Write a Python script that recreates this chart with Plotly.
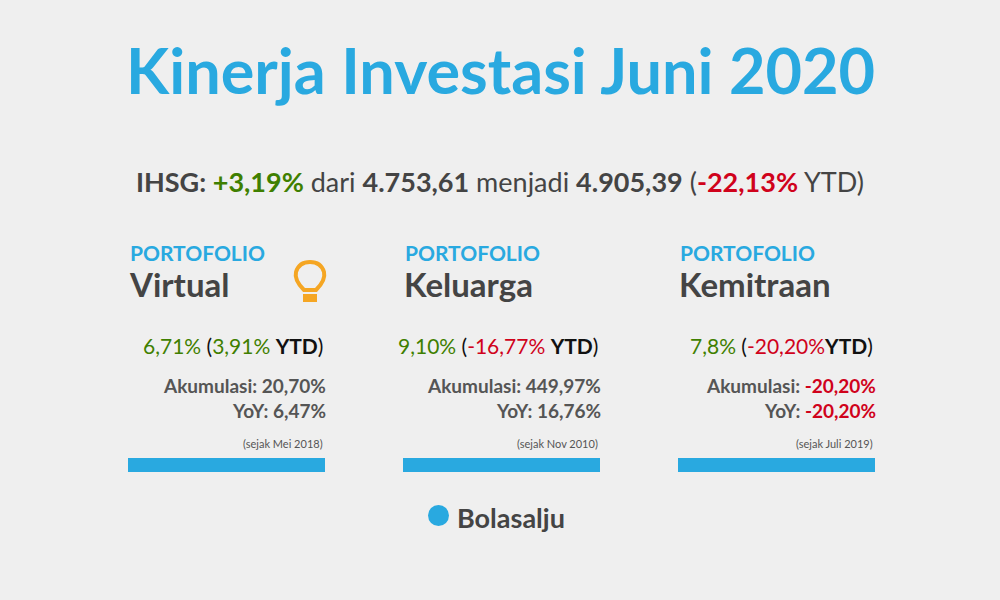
import plotly.graph_objects as go

title = "Kinerja Investasi Juni 2020"
ihsg_change = "+3,19%"
ihsg_from = "4.753,61"
ihsg_to = "4.905,39"
ihsg_ytd = "-22,13%"

names = ["Virtual", "Keluarga", "Kemitraan"]
monthly = ["6,71%", "9,10%", "7,8%"]
ytd = ["3,91%", "-16,77%", "-20,20%"]
akumulasi = ["20,70%", "449,97%", "-20,20%"]
yoy = ["6,47%", "16,76%", "-20,20%"]
since = ["(sejak Mei 2018)", "(sejak Nov 2010)", "(sejak Juli 2019)"]

BLUE = "#29a9e0"; GREEN = "#3f7f00"; RED = "#d0021b"; DARK = "#444444"; GREY = "#555555"
F = "Lato"

def col(v):
    return RED if v.startswith("-") else GREEN

fig = go.Figure()
ann = []
shapes = []
ann.append(dict(x=500, y=69, text=f"<b>{title}</b>", font=dict(size=63, color=BLUE, family=F)))
ann.append(dict(x=500, y=181, font=dict(size=27, color=DARK, family=F),
    text=f"<b>IHSG: </b><b><span style='color:{GREEN}'>{ihsg_change}</span></b> dari <b>{ihsg_from}</b> menjadi <b>{ihsg_to}</b> (<b><span style='color:{RED}'>{ihsg_ytd}</span></b> YTD)"))
for i, n in enumerate(names):
    x0 = 128 + 275 * i
    xr = x0 + 197
    ann.append(dict(x=x0, y=252, xanchor="left", text="<b>PORTOFOLIO</b>", font=dict(size=21, color=BLUE, family=F)))
    ann.append(dict(x=x0 - 1, y=284, xanchor="left", text=f"<b>{n}</b>", font=dict(size=33, color=DARK, family=F)))
    sep = " " if i < 2 else ""
    ann.append(dict(x=xr, y=345, xanchor="right", font=dict(size=21, color="#111", family=F),
        text=f"<span style='color:{col(monthly[i])}'>{monthly[i]}</span> (<span style='color:{col(ytd[i])}'>{ytd[i]}</span>{sep}<b>YTD</b>)"))
    ann.append(dict(x=xr + 3, y=385, xanchor="right", font=dict(size=19, color=GREY, family=F),
        text=f"<b>Akumulasi: </b><b><span style='color:{RED if akumulasi[i].startswith('-') else GREY}'>{akumulasi[i]}</span></b>"))
    ann.append(dict(x=xr + 3, y=410, xanchor="right", font=dict(size=19, color=GREY, family=F),
        text=f"<b>YoY: </b><b><span style='color:{RED if yoy[i].startswith('-') else GREY}'>{yoy[i]}</span></b>"))
    ann.append(dict(x=xr, y=443, xanchor="right", text=since[i], font=dict(size=11, color=GREY, family=F)))
    shapes.append(dict(type="rect", x0=x0, x1=xr, y0=458, y1=472, fillcolor=BLUE, line_width=0))

# lightbulb
OR = "#f5a623"
shapes.append(dict(type="path", path="M 304 290 Q 294 280 296 272 Q 299 262 310 262 Q 321 262 324 272 Q 326 280 316 290 Z",
                   line=dict(color=OR, width=4), fillcolor="rgba(0,0,0,0)"))
shapes.append(dict(type="rect", x0=303, x1=317, y0=294, y1=302, fillcolor=OR, line_width=0))
# logo
shapes.append(dict(type="circle", x0=428, x1=449, y0=505, y1=526, fillcolor=BLUE, line_width=0))
ann.append(dict(x=455, y=517, xanchor="left", text="<b>Bolasalju</b>", font=dict(size=27, color=DARK, family=F)))

for a in ann:
    a.update(xref="x", yref="y", showarrow=False)
    a.setdefault("xanchor", "center")
    a["yanchor"] = "middle"

fig.update_layout(width=1000, height=600, margin=dict(l=0, r=0, t=0, b=0),
    paper_bgcolor="#efefef", plot_bgcolor="#efefef", annotations=ann, shapes=shapes,
    xaxis=dict(range=[0, 1000], visible=False, fixedrange=True),
    yaxis=dict(range=[600, 0], visible=False, fixedrange=True), showlegend=False)
fig.write_html("out.html", config={"displayModeBar": False},
               post_script="document.body.style.margin='0';document.body.style.background='#efefef';")
